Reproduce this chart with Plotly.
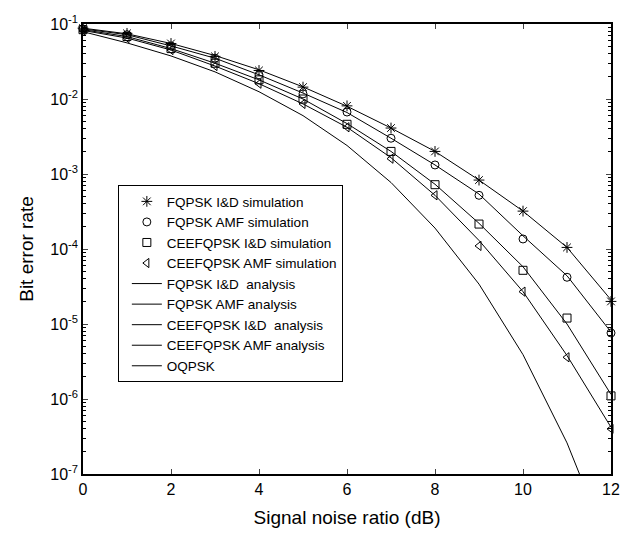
import plotly.graph_objects as go

snr = [0, 1, 2, 3, 4, 5, 6, 7, 8, 9, 10, 11, 12]

# simulation results (markers)
fqpsk_id_sim = [8.8e-2, 7.5e-2, 5.5e-2, 3.7e-2, 2.4e-2, 1.44e-2, 8.1e-3, 4.1e-3, 2.0e-3, 8.3e-4, 3.2e-4, 1.05e-4, 2.0e-5]
fqpsk_amf_sim = [8.6e-2, 7.2e-2, 5.1e-2, 3.5e-2, 2.1e-2, 1.17e-2, 6.7e-3, 3.0e-3, 1.32e-3, 5.2e-4, 1.36e-4, 4.2e-5, 7.6e-6]
cee_id_sim = [8.4e-2, 6.8e-2, 4.7e-2, 3.0e-2, 1.8e-2, 1.0e-2, 4.6e-3, 2.0e-3, 7.2e-4, 2.15e-4, 5.2e-5, 1.2e-5, 1.1e-6]
cee_amf_sim = [8.2e-2, 6.5e-2, 4.5e-2, 2.75e-2, 1.6e-2, 8.6e-3, 4.2e-3, 1.6e-3, 5.2e-4, 1.1e-4, 2.7e-5, 3.6e-6, 4.0e-7]

# analysis curves (lines)
fqpsk_id_ana = [8.8e-2, 7.4e-2, 5.5e-2, 3.8e-2, 2.45e-2, 1.45e-2, 8.0e-3, 4.1e-3, 2.0e-3, 8.3e-4, 3.2e-4, 1.05e-4, 2.1e-5]
fqpsk_amf_ana = [8.6e-2, 7.2e-2, 5.1e-2, 3.5e-2, 2.1e-2, 1.2e-2, 6.6e-3, 3.0e-3, 1.32e-3, 5.4e-4, 1.5e-4, 4.4e-5, 7.8e-6]
cee_id_ana = [8.4e-2, 6.8e-2, 4.7e-2, 3.0e-2, 1.8e-2, 1.0e-2, 4.7e-3, 2.0e-3, 7.3e-4, 2.2e-4, 5.8e-5, 1.0e-5, 1.15e-6]
cee_amf_ana = [8.2e-2, 6.5e-2, 4.5e-2, 2.75e-2, 1.6e-2, 8.6e-3, 4.2e-3, 1.65e-3, 5.2e-4, 1.3e-4, 2.7e-5, 3.8e-6, 4.2e-7]
oqpsk = [7.9e-2, 5.6e-2, 3.75e-2, 2.3e-2, 1.25e-2, 6.0e-3, 2.4e-3, 7.7e-4, 1.9e-4, 3.4e-5, 3.9e-6, 2.6e-7, 9e-9]

y_tickvals = [1e-7, 1e-6, 1e-5, 1e-4, 1e-3, 1e-2, 1e-1]
y_ticktext = ["10<sup>-7</sup>", "10<sup>-6</sup>", "10<sup>-5</sup>", "10<sup>-4</sup>",
              "10<sup>-3</sup>", "10<sup>-2</sup>", "10<sup>-1</sup>"]
x_tickvals = [0, 2, 4, 6, 8, 10, 12]

FONT = "Liberation Sans, Arial, Helvetica, sans-serif"

fig = go.Figure()

sims = [
    ("FQPSK I&D simulation", fqpsk_id_sim, "asterisk-open", 9),
    ("FQPSK AMF simulation", fqpsk_amf_sim, "circle-open", 8),
    ("CEEFQPSK I&D simulation", cee_id_sim, "square-open", 8),
    ("CEEFQPSK AMF simulation", cee_amf_sim, "triangle-left-open", 8),
]
for name, vals, sym, sz in sims:
    fig.add_trace(go.Scatter(
        x=snr, y=vals, mode="markers", name=name, cliponaxis=False,
        marker=dict(symbol=sym, size=sz, color="black", line=dict(color="black", width=1)),
    ))

lines = [
    ("FQPSK I&D  analysis", fqpsk_id_ana),
    ("FQPSK AMF analysis", fqpsk_amf_ana),
    ("CEEFQPSK I&D  analysis", cee_id_ana),
    ("CEEFQPSK AMF analysis", cee_amf_ana),
    ("OQPSK", oqpsk),
]
for name, vals in lines:
    fig.add_trace(go.Scatter(
        x=snr, y=vals, mode="lines", name=name,
        line=dict(color="black", width=1),
    ))

fig.update_layout(
    width=624, height=528,
    margin=dict(l=75, r=21, t=16, b=62),
    paper_bgcolor="white", plot_bgcolor="white",
    font=dict(family=FONT, size=16, color="black"),
    showlegend=True,
    legend=dict(
        x=0.066, y=0.642, xanchor="left", yanchor="top",
        bgcolor="white", bordercolor="black", borderwidth=1,
        font=dict(family=FONT, size=13.5, color="black"),
        tracegroupgap=0, indentation=8,
    ),
    xaxis=dict(
        range=[0, 12], tickvals=x_tickvals, ticks="inside", ticklen=5,
        showline=True, linecolor="black", linewidth=1.5, mirror="ticks",
        showgrid=False, zeroline=False, automargin=False,
        title=dict(text="Signal noise ratio (dB)", font=dict(size=19), standoff=14),
        tickfont=dict(size=16),
    ),
    yaxis=dict(
        type="log", range=[-7, -1], tickvals=y_tickvals, ticktext=y_ticktext,
        ticks="inside", ticklen=5,
        showline=True, linecolor="black", linewidth=1.5, mirror="ticks",
        showgrid=False, zeroline=False, automargin=False,
        minor=dict(ticks="inside", ticklen=3, dtick="D1", showgrid=False, tickcolor="black"),
        title=dict(text="Bit error rate", font=dict(size=19), standoff=12),
        tickfont=dict(size=16),
    ),
)

fig.write_html("out.html")
